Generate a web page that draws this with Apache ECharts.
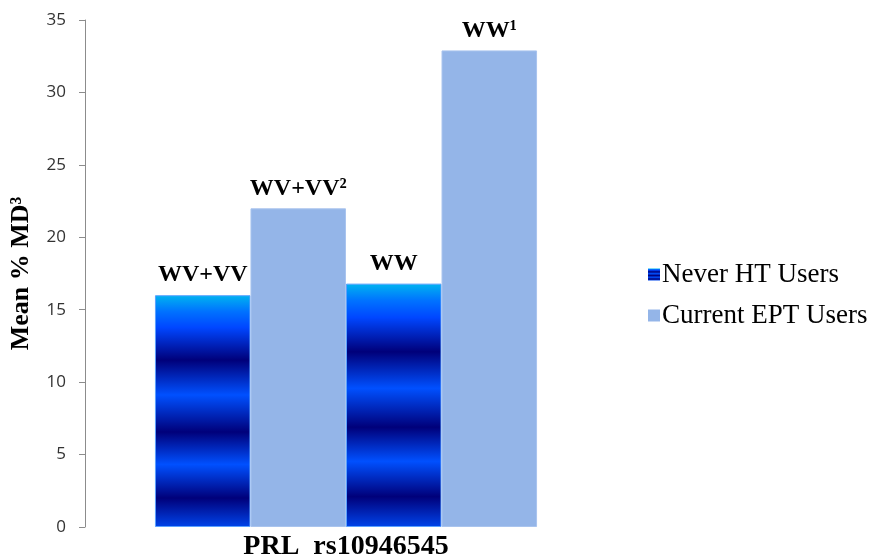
<!DOCTYPE html>
<html>
<head>
<meta charset="utf-8">
<script src="https://cdn.jsdelivr.net/npm/echarts@6/dist/echarts.min.js"></script>
<style>
html,body{margin:0;padding:0;background:#fff;}
#chart{width:875px;height:560px;}
</style>
</head>
<body>
<div id="chart"></div>
<script>
// ---- data ----
var category = ['PRL  rs10946545'];
var seriesNames = ['Never HT Users', 'Current EPT Users'];
var genotypes = ['WV+VV', 'WW'];
var neverHT = [16.0, 16.8];
var currentEPT = [22.0, 32.9];
var neverLabels = ['WV+VV', 'WW'];
var currentLabels = ['WV+VV\u00B2', 'WW\u00B9'];
var yTicks = [0, 5, 10, 15, 20, 25, 30, 35];

// ---- styles ----
var serif = "'Liberation Serif', 'Times New Roman', serif";
var bandGradient = new echarts.graphic.LinearGradient(0, 0, 0, 1, [
  {offset: 0.00, color: '#00B4F0'},
  {offset: 0.07, color: '#0072FF'},
  {offset: 0.14, color: '#0046FF'},
  {offset: 0.28, color: '#00007A'},
  {offset: 0.43, color: '#0050FF'},
  {offset: 0.59, color: '#00007A'},
  {offset: 0.73, color: '#0050FF'},
  {offset: 0.875, color: '#00007A'},
  {offset: 1.00, color: '#0044EA'}
]);
var eptColor = '#94B5E8';

function makeSeries(name, value, label, color, border) {
  return {
    name: name,
    type: 'bar',
    barGap: '0%',
    barCategoryGap: '26.8%',
    data: [value],
    itemStyle: {color: color, borderColor: border, borderWidth: 1},
    label: {
      show: true,
      position: 'top',
      distance: 8,
      formatter: function () { return label; },
      fontFamily: serif,
      fontWeight: 'bold',
      fontSize: 24,
      color: '#000'
    },
    emphasis: {disabled: true}
  };
}

var series = [];
for (var i = 0; i < genotypes.length; i++) {
  series.push(makeSeries(seriesNames[0], neverHT[i], neverLabels[i], bandGradient, '#5AA0FF'));
  series.push(makeSeries(seriesNames[1], currentEPT[i], currentLabels[i], eptColor, '#A9C4EE'));
}

var chart = echarts.init(document.getElementById('chart'));
chart.setOption({
  animation: false,
  backgroundColor: '#fff',
  grid: {left: 85, right: 268, top: 20, bottom: 33, containLabel: false, outerBoundsMode: 'none'},
  legend: {
    data: seriesNames.map(function (n) { return {name: n, icon: 'rect'}; }),
    orient: 'vertical',
    left: 643,
    top: 256,
    itemWidth: 12,
    itemHeight: 12,
    itemGap: 14,
    itemStyle: {borderWidth: 0},
    textStyle: {fontFamily: serif, fontSize: 27, color: '#000', padding: [0, 0, 0, -3]}
  },
  xAxis: {
    type: 'category',
    data: category,
    axisLine: {show: false},
    axisTick: {show: false},
    axisLabel: {
      margin: 6,
      fontFamily: serif,
      fontWeight: 'bold',
      fontSize: 28,
      color: '#000'
    }
  },
  yAxis: {
    type: 'value',
    min: yTicks[0],
    max: yTicks[yTicks.length - 1],
    interval: yTicks[1] - yTicks[0],
    name: 'Mean % MD\u00B3',
    nameLocation: 'middle',
    nameRotate: 90,
    nameGap: 51,
    nameTextStyle: {fontFamily: serif, fontWeight: 'bold', fontSize: 26, color: '#000'},
    axisLine: {show: true, lineStyle: {color: '#8C8C8C', width: 1}},
    axisTick: {show: true, length: 6, lineStyle: {color: '#8C8C8C'}},
    splitLine: {show: false},
    axisLabel: {
      margin: 19,
      fontFamily: "'Open Sans', sans-serif",
      fontSize: 17,
      color: '#333'
    }
  },
  series: series
});
</script>
</body>
</html>
